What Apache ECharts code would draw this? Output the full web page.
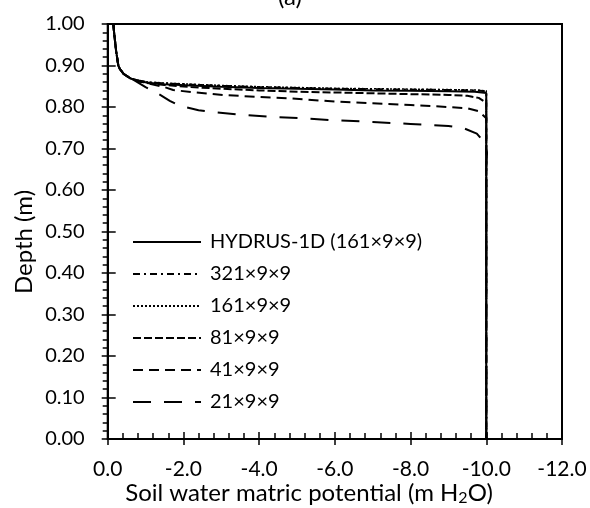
<!DOCTYPE html>
<html>
<head>
<meta charset="utf-8">
<script src="https://cdn.jsdelivr.net/npm/echarts@6/dist/echarts.min.js"></script>
<style>
  html, body { margin: 0; padding: 0; background: #fff; }
  #main { width: 590px; height: 508px; }
</style>
</head>
<body>
<div id="main"></div>
<script>
// x: soil water matric potential (m H2O), y: depth (m)
const seriesNames = ["HYDRUS-1D (161×9×9)", "321×9×9", "161×9×9", "81×9×9", "41×9×9", "21×9×9"];

const hydrusPsi   = [-0.15, -0.17, -0.22, -0.28, -0.32, -0.42, -0.6, -0.85, -1.1, -1.5, -2.2, -3, -4, -5, -6, -7, -8, -9, -9.7, -10, -10];
const hydrusDepth = [1.0, 0.978, 0.937, 0.9, 0.892, 0.88, 0.869, 0.862, 0.858, 0.855, 0.852, 0.849, 0.846, 0.844, 0.842, 0.84, 0.839, 0.838, 0.837, 0.834, 0];

const m321Psi   = [-0.15, -0.17, -0.22, -0.28, -0.32, -0.42, -0.6, -0.85, -1.1, -1.5, -2.2, -3, -4, -5, -6, -7, -8, -9, -9.7, -10, -10];
const m321Depth = [1.0, 0.978, 0.937, 0.9, 0.892, 0.88, 0.869, 0.863, 0.859, 0.857, 0.854, 0.851, 0.848, 0.846, 0.844, 0.843, 0.842, 0.841, 0.84, 0.838, 0];

const m161Psi   = [-0.15, -0.17, -0.22, -0.28, -0.32, -0.42, -0.6, -0.85, -1.1, -1.5, -2.2, -3, -4, -5, -6, -7, -8, -9, -9.7, -10, -10];
const m161Depth = [1.0, 0.978, 0.937, 0.9, 0.892, 0.88, 0.869, 0.863, 0.86, 0.858, 0.855, 0.852, 0.849, 0.847, 0.845, 0.844, 0.843, 0.842, 0.841, 0.839, 0];

const m81Psi   = [-0.15, -0.17, -0.22, -0.28, -0.32, -0.42, -0.6, -0.85, -1.1, -1.5, -2.2, -3, -4, -5, -6, -7, -8, -9, -9.5, -9.8, -10, -10];
const m81Depth = [1.0, 0.978, 0.937, 0.9, 0.892, 0.88, 0.869, 0.861, 0.857, 0.853, 0.848, 0.844, 0.84, 0.837, 0.835, 0.833, 0.831, 0.829, 0.827, 0.822, 0.81, 0];

const m41Psi   = [-0.15, -0.17, -0.22, -0.28, -0.32, -0.42, -0.6, -0.8, -1.0, -1.5, -1.73, -2.2, -3.05, -4, -4.81, -6, -7, -8, -9, -9.5, -9.8, -10, -10];
const m41Depth = [1.0, 0.978, 0.937, 0.9, 0.892, 0.88, 0.869, 0.864, 0.858, 0.848, 0.841, 0.836, 0.829, 0.824, 0.821, 0.813, 0.809, 0.805, 0.8, 0.797, 0.79, 0.773, 0];

const m21Psi   = [-0.15, -0.17, -0.22, -0.28, -0.32, -0.42, -0.6, -1.0, -1.3, -1.64, -1.9, -2.4, -2.85, -3.6, -4.35, -5.1, -6, -7, -8, -9, -9.4, -9.75, -9.95, -10.02, -10, -10];
const m21Depth = [1.0, 0.978, 0.937, 0.9, 0.892, 0.88, 0.87, 0.848, 0.834, 0.815, 0.803, 0.792, 0.787, 0.781, 0.776, 0.773, 0.768, 0.764, 0.759, 0.754, 0.749, 0.736, 0.715, 0.69, 0.66, 0];

const xTicks = { min: -12, max: 0, step: 2 };
const yTicks = { min: 0, max: 1, step: 0.1 };

const zip = (a, b) => a.map((v, i) => [v, b[i]]);

const lineData = [
  zip(hydrusPsi, hydrusDepth),
  zip(m321Psi, m321Depth),
  zip(m161Psi, m161Depth),
  zip(m81Psi, m81Depth),
  zip(m41Psi, m41Depth),
  zip(m21Psi, m21Depth),
];

// dash patterns for each series
const dashes = ["solid", [7, 4, 2, 4], [2, 2], [8, 3], [10, 6], [18, 13]];
const widths = [2, 2, 1.5, 2, 2, 2];

const font = "Lato";

const chart = echarts.init(document.getElementById("main"), null, { renderer: "canvas" });

const option = {
  animation: false,
  backgroundColor: "#fff",
  grid: {
    left: 107.7,
    right: 28,
    top: 24,
    bottom: 69,
    show: true,
    borderColor: "#000",
    borderWidth: 2,
  },
  legend: {
    orient: "vertical",
    left: 127,
    top: 227,
    itemWidth: 68,
    itemHeight: 2,
    itemGap: 12,
    itemStyle: { opacity: 0 },
    textStyle: { fontFamily: font, fontSize: 20, color: "#000", padding: [0, 0, 0, 4] },
    data: seriesNames,
  },
  xAxis: [
    {
      type: "value",
      min: xTicks.min,
      max: xTicks.max,
      interval: xTicks.step,
      inverse: true,
      position: "bottom",
      splitLine: { show: false },
      axisLine: { show: true, onZero: false, lineStyle: { color: "#000", width: 2 } },
      axisTick: { show: true, inside: true, length: 7, lineStyle: { color: "#000", width: 1.5 } },
      minorTick: { show: true, splitNumber: 5, length: 6, lineStyle: { color: "#000", width: 1.5 } },
      axisLabel: {
        margin: 20,
        fontFamily: font,
        fontSize: 21,
        color: "#000",
        formatter: (v) => v.toFixed(1),
      },
    },
    {
      type: "value",
      min: xTicks.min,
      max: xTicks.max,
      interval: xTicks.step,
      inverse: true,
      position: "bottom",
      splitLine: { show: false },
      axisLine: { show: false, onZero: false },
      axisTick: { show: true, inside: false, length: 6, lineStyle: { color: "#000", width: 1.5 } },
      axisLabel: { show: false },
    },
  ],
  yAxis: [
    {
      type: "value",
      min: yTicks.min,
      max: yTicks.max,
      interval: yTicks.step,
      position: "left",
      splitLine: { show: false },
      axisLine: { show: true, onZero: false, lineStyle: { color: "#000", width: 2 } },
      axisTick: { show: true, inside: false, length: 6, lineStyle: { color: "#000", width: 1.5 } },
      minorTick: { show: true, splitNumber: 5, length: 5, lineStyle: { color: "#000", width: 1.5 } },
      axisLabel: {
        margin: 23,
        fontFamily: font,
        fontSize: 20,
        color: "#000",
        formatter: (v) => v.toFixed(2),
      },
    },
    {
      type: "value",
      min: yTicks.min,
      max: yTicks.max,
      interval: yTicks.step,
      position: "left",
      splitLine: { show: false },
      axisLine: { show: false, onZero: false },
      axisTick: { show: true, inside: true, length: 8, lineStyle: { color: "#000", width: 1.5 } },
      axisLabel: { show: false },
    },
  ],
  graphic: [
    {
      type: "text",
      x: 290,
      y: 9,
      style: {
        text: "(a)",
        font: "24px " + font,
        fill: "#000",
        align: "center",
        verticalAlign: "bottom",
      },
    },
    {
      type: "text",
      x: 24,
      y: 242,
      rotation: Math.PI / 2,
      style: {
        text: "Depth (m)",
        font: "24px " + font,
        fill: "#000",
        align: "center",
        verticalAlign: "middle",
      },
    },
    {
      type: "text",
      x: 309,
      y: 493,
      style: {
        text: "{a|Soil water matric potential (m H}{s|2}{a|O)}",
        align: "center",
        verticalAlign: "middle",
        rich: {
          a: { fontFamily: font, fontSize: 24, lineHeight: 26, fill: "#000", color: "#000" },
          s: { fontFamily: font, fontSize: 16, lineHeight: 14, verticalAlign: "bottom", fill: "#000", color: "#000" },
        },
      },
    },
  ],
  series: seriesNames.map((name, i) => ({
    name,
    type: "line",
    xAxisIndex: 0,
    yAxisIndex: 0,
    data: lineData[i],
    showSymbol: false,
    symbol: "none",
    smooth: false,
    z: 10 - i,
    lineStyle: { color: "#000", width: widths[i], type: dashes[i] },
    itemStyle: { color: "#000" },
  })),
};

chart.setOption(option);
</script>
</body>
</html>
